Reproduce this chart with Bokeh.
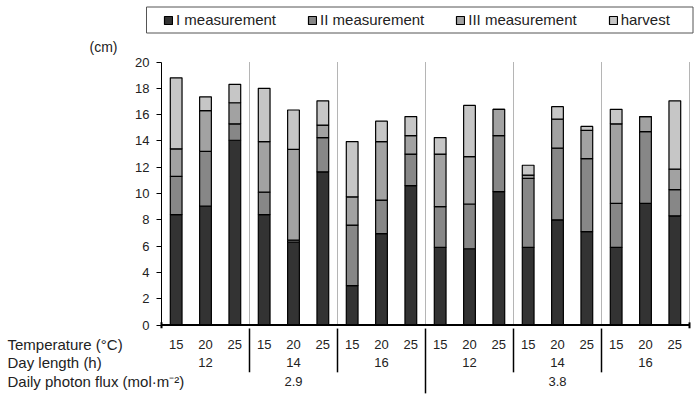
from bokeh.plotting import figure
from bokeh.models import Range1d, FixedTicker, ColumnDataSource, Legend, LegendItem
from bokeh.core.properties import value
from bokeh.embed import file_html
from bokeh.resources import INLINE

# ---- data -------------------------------------------------------------
series = ["I measurement", "II measurement", "III measurement", "harvest"]
temperature = ["15", "20", "25", "15", "20", "25", "15", "20", "25",
               "15", "20", "25", "15", "20", "25", "15", "20", "25"]
day_length = ["12", "14", "16", "12", "14", "16"]
photon_flux = ["2.9", "3.8"]
# segment heights (cm) of every stacked bar
m1 = [8.4, 9.05, 14.05, 8.4, 6.3, 11.65, 3.0, 6.95, 10.6,
      5.9, 5.8, 10.15, 5.9, 8.0, 7.1, 5.9, 9.25, 8.3]
m2 = [2.9, 4.15, 1.25, 1.7, 0.15, 2.6, 4.6, 2.55, 2.4,
      3.1, 3.4, 4.25, 5.25, 5.45, 5.55, 3.35, 5.45, 2.0]
m3 = [2.1, 3.1, 1.6, 3.85, 6.9, 0.95, 2.15, 4.45, 1.4,
      4.0, 3.6, 2.0, 0.25, 2.2, 2.15, 6.05, 1.15, 1.55]
harvest = [5.4, 1.05, 1.4, 4.05, 3.0, 1.85, 4.2, 1.55, 1.45,
           1.25, 3.9, 0.0, 0.75, 0.95, 0.3, 1.1, 0.0, 5.2]
y_ticks = [0, 2, 4, 6, 8, 10, 12, 14, 16, 18, 20]

colors = ["#333333", "#878787", "#a2a2a2", "#c6c6c6"]
FONT = value("Liberation Sans")
TXT = "#222222"

n = len(temperature)
xs = [i + 0.5 for i in range(n)]
g_day = n // len(day_length)
g_ph = n // len(photon_flux)

W, H = 698, 396
PXX = 528 / 18.0
PXY = 263.0 / 20.0
X0 = 161.0      # page x of value x=0
Y0 = 324.5      # page y of value y=0
xl = (0 - X0) / PXX
xr = xl + W / PXX
yt = (Y0 - 0) / PXY
yb = yt - H / PXY

p = figure(width=W, height=H, output_backend="svg", toolbar_location=None,
           x_range=Range1d(xl, xr), y_range=Range1d(yb, yt),
           x_axis_location=None, y_axis_location="left", min_border=0)
p.outline_line_color = None
p.grid.visible = False
p.background_fill_color = "white"

# y axis placed at x = 0
ax = p.yaxis[0]
ax.fixed_location = 0
ax.ticker = FixedTicker(ticks=y_ticks)
ax.bounds = (y_ticks[0], y_ticks[-1])
ax.major_tick_out = 5
ax.major_tick_in = 0
ax.minor_tick_out = 0
ax.minor_tick_in = 0
ax.axis_line_color = "black"
ax.major_tick_line_color = "black"
ax.major_label_text_font = "Liberation Sans"
ax.major_label_text_font_size = "13px"
ax.major_label_text_color = TXT
ax.major_label_standoff = 7

# light vertical separators inside the plot
gx = [g_day * (j + 1) for j in range(len(day_length))]
p.segment(x0=gx, y0=[y_ticks[0]] * len(gx), x1=gx, y1=[y_ticks[-1]] * len(gx),
          line_color="#b5b5b5", line_width=1)

# stacked bars
src = ColumnDataSource(dict(x=xs, I=m1, II=m2, III=m3, harvest=harvest))
rs = p.vbar_stack(["I", "II", "III", "harvest"], x="x", width=0.4, source=src,
                  fill_color=colors, line_color="black", line_width=1.2)

# x axis line and category separators below it
p.segment(x0=[0], y0=[0], x1=[n], y1=[0], line_color="black", line_width=2)
p.segment(x0=[0, n], y0=[0.2, 0.2], x1=[0, n], y1=[-0.25, -0.25],
          line_color="black", line_width=2)
short = [g_day * (j + 1) for j in range(len(day_length) - 1) if (g_day * (j + 1)) % g_ph != 0]
p.segment(x0=short, y0=[-0.27] * len(short), x1=short, y1=[-3.6] * len(short),
          line_color="black", line_width=1.5)
mids = [g_ph * (k + 1) for k in range(len(photon_flux) - 1)]
p.segment(x0=mids, y0=[-0.27] * len(mids), x1=mids, y1=[-5.2] * len(mids),
          line_color="black", line_width=1.5)

# category labels
p.text(x=xs, y=[-1.5] * n, text=temperature, text_align="center", text_baseline="middle",
       text_font=FONT, text_font_size="13px", text_color=TXT)
p.text(x=[g_day * j + g_day / 2 for j in range(len(day_length))], y=[-2.86] * len(day_length),
       text=day_length, text_align="center", text_baseline="middle",
       text_font=FONT, text_font_size="13px", text_color=TXT)
p.text(x=[g_ph * k + g_ph / 2 for k in range(len(photon_flux))], y=[-4.26] * len(photon_flux),
       text=photon_flux, text_align="center", text_baseline="middle",
       text_font=FONT, text_font_size="13px", text_color=TXT)
p.text(x=[(7 - X0) / PXX] * 3, y=[-1.5, -2.86, -4.26],
       text=["Temperature (°C)", "Day length (h)", "Daily photon flux (mol·m⁻²)"],
       text_align="left", text_baseline="middle",
       text_font=FONT, text_font_size="15px", text_color=TXT)
p.text(x=[(103 - X0) / PXX], y=[(Y0 - 46) / PXY], text=["(cm)"], text_align="center",
       text_baseline="middle", text_font=FONT, text_font_size="14px", text_color=TXT)

# legend frame
p.quad(left=[(146 - X0) / PXX], right=[(692.5 - X0) / PXX],
       top=[(Y0 - 6.5) / PXY], bottom=[(Y0 - 32.5) / PXY],
       fill_color="white", line_color="#555555", line_width=1)

legend = Legend(items=[LegendItem(label=s, renderers=[r]) for s, r in zip(series, rs)],
                orientation="horizontal", location=(163, H - 28),
                padding=4, spacing=31, margin=0,
                glyph_width=10, glyph_height=10, label_standoff=3, label_height=14,
                label_text_font="Liberation Sans", label_text_font_size="15px",
                label_text_color=TXT,
                border_line_color=None, background_fill_alpha=0)
p.add_layout(legend)

open("out.html", "w").write(file_html(p, INLINE))
